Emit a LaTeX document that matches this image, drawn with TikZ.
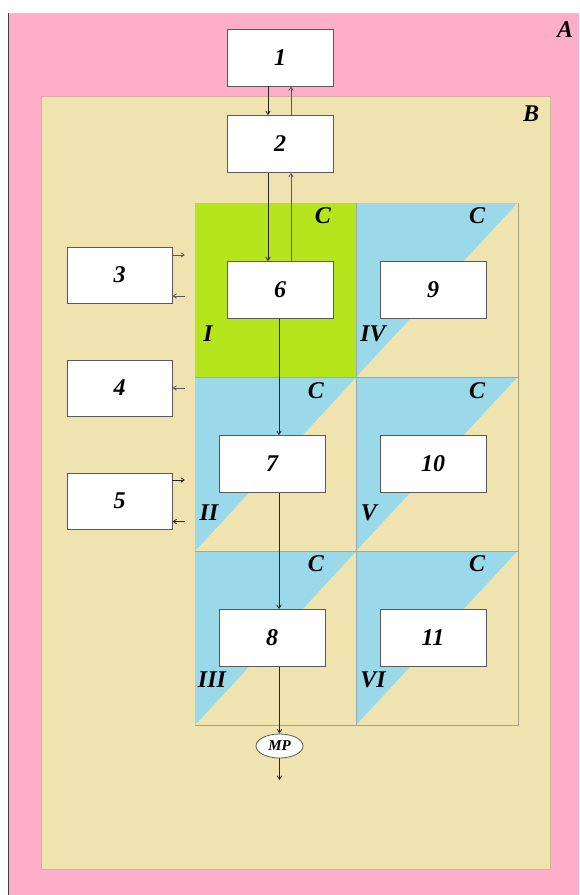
\documentclass[tikz,border=0pt]{standalone}
\usepackage{fontspec}
\setmainfont{Liberation Serif}
\usetikzlibrary{arrows.meta,shapes.geometric,calc}
\definecolor{pinkA}{RGB}{255,174,201}
\definecolor{tanB}{RGB}{239,228,176}
\definecolor{limeC}{RGB}{181,230,29}
\definecolor{blueC}{RGB}{153,217,234}
\definecolor{borderB}{RGB}{214,176,160}
\definecolor{gridline}{RGB}{150,170,175}
\definecolor{boxline}{RGB}{90,90,90}
\tikzset{
  lbl/.style={font=\fontsize{24}{26}\selectfont\bfseries\itshape, inner sep=0pt},
  box/.style={draw=boxline, line width=0.8pt, fill=white, minimum width=106pt, minimum height=57pt, inner sep=0pt, font=\fontsize{24}{26}\selectfont\bfseries\itshape},
  conn/.style={line width=0.8pt, draw=black!85, -{Straight Barb[length=3.5pt,width=4.5pt]}},
  connup/.style={line width=0.8pt, draw=black!65, -{Straight Barb[length=3.5pt,width=4.5pt]}},
}
\begin{document}
\begin{tikzpicture}[x=1pt,y=-1pt]
\useasboundingbox (0,0) rectangle (579,895);
\fill[white] (0,0) rectangle (579,895);
% region A
\fill[pinkA] (8,13) rectangle (579,895);
\draw[black!20, line width=0.8pt] (8,13) -- (579,13);
\draw[black!75, line width=1pt] (8.5,13) -- (8.5,895);
\node[lbl] (labA) at (565,30) {A};
% region B
\filldraw[fill=tanB, draw=borderB, line width=0.8pt] (41.5,96.5) rectangle (550,869.5);
\node[lbl] (labB) at (531,114) {B};
% grid cells
\fill[limeC] (195,203) rectangle (356,377);
\foreach \x/\y in {356/203, 195/377, 356/377, 195/551, 356/551}{
  \fill[blueC] (\x,\y) -- ++(161.5,0) -- ++(-161.5,174) -- cycle;
}
\draw[gridline, line width=0.6pt] (195,377) -- (518,377);
\draw[gridline, line width=0.6pt] (195,551) -- (518,551);
\draw[gridline, line width=0.6pt] (356,203) -- (356,725);
\draw[black!25!tanB!80!gray, line width=0.6pt] (518,203) -- (518,725) -- (195,725);
% cell labels
\node[lbl] (c1) at (323,216) {C};
\node[lbl] (c2) at (316,391) {C};
\node[lbl] (c3) at (316,564) {C};
\node[lbl] (c4) at (477,216) {C};
\node[lbl] (c5) at (477,391) {C};
\node[lbl] (c6) at (477,564) {C};
\node[lbl] (r1) at (208,334) {I};
\node[lbl] (r2) at (209,513) {II};
\node[lbl] (r3) at (212,680) {III};
\node[lbl] (r4) at (373,334) {IV};
\node[lbl] (r5) at (369,513) {V};
\node[lbl] (r6) at (373,680) {VI};
% boxes
\node[box] (b1) at (280,57.5) {1};
\node[box] (b2) at (280,144) {2};
\node[box] (b6) at (280,290) {6};
\node[box] (b9) at (433,290) {9};
\node[box] (b7) at (272,464) {7};
\node[box] (b10) at (433,464) {10};
\node[box] (b8) at (272,638) {8};
\node[box] (b11) at (433,638) {11};
\node[box, minimum width=105pt, minimum height=56pt] (b3) at (119.5,275) {3};
\node[box, minimum width=105pt, minimum height=56pt] (b4) at (119.5,388) {4};
\node[box, minimum width=105pt, minimum height=56pt] (b5) at (119.5,501) {5};
\node[draw=boxline, line width=0.8pt, fill=white, ellipse, minimum width=47pt, minimum height=24pt, inner sep=0pt, font=\fontsize{15}{17}\selectfont\bfseries\itshape] (mp) at (279.5,746) {MP};
% vertical connectors
\draw[conn] ([xshift=-12pt]b1.south) -- ([xshift=-12pt]b2.north);
\draw[connup] ([xshift=11pt]b2.north) -- ([xshift=11pt]b1.south);
\draw[conn] ([xshift=-12pt]b2.south) -- ([xshift=-12pt]b6.north);
\draw[connup] ([xshift=11pt]b6.north) -- ([xshift=11pt]b2.south);
\draw[conn] ([xshift=-1pt]b6.south) -- ([xshift=-1pt]b6.south |- b7.north);
\draw[conn] ([xshift=7pt]b7.south) -- ([xshift=7pt]b8.north);
\draw[conn] ([xshift=7.5pt]b8.south) -- (mp.north);
\coordinate (mpout) at (279.5,780);
\draw[conn] (mp.south) -- (mpout);
% side connectors
\coordinate (s3a) at (185,255);
\coordinate (s3b) at (185,296);
\coordinate (s4a) at (185,388);
\coordinate (s5a) at (185,480);
\coordinate (s5b) at (185,521.5);
\draw[connup] (b3.east |- s3a) -- (s3a);
\draw[connup] (s3b) -- (b3.east |- s3b);
\draw[connup] (s4a) -- (b4.east |- s4a);
\draw[conn] (b5.east |- s5a) -- (s5a);
\draw[conn] (s5b) -- (b5.east |- s5b);
\end{tikzpicture}
\end{document}
